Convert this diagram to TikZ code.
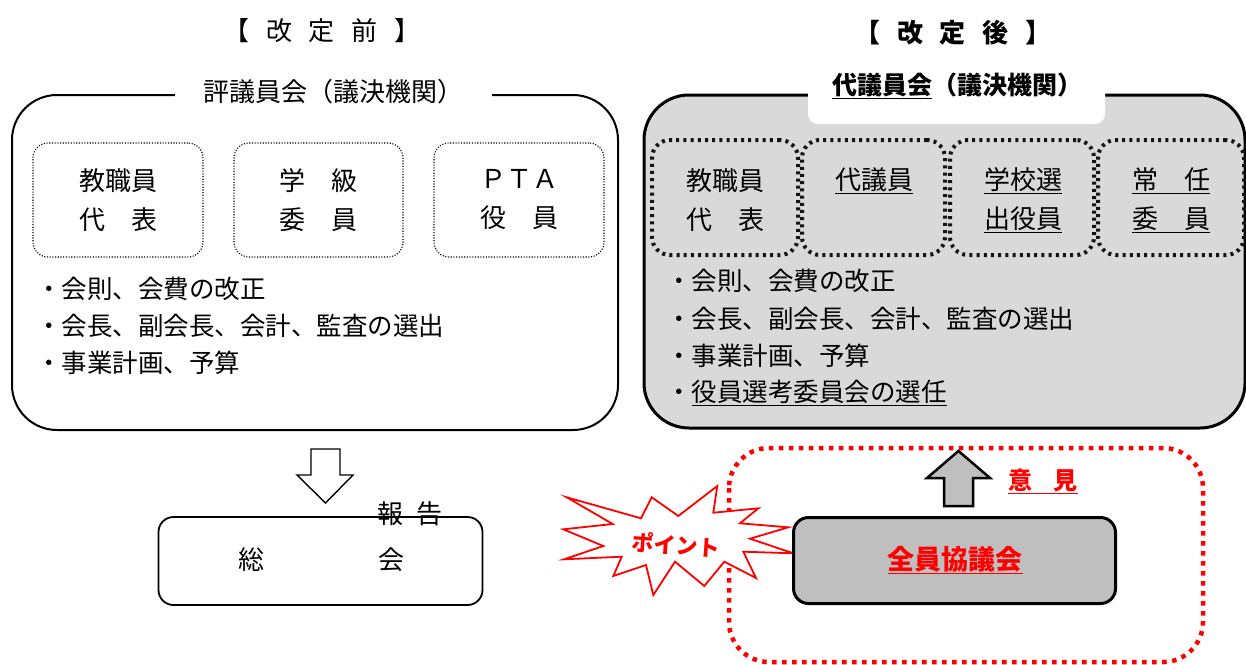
\documentclass[tikz,border=0pt]{standalone}
\usepackage{fontspec}
\setmainfont{Noto Sans CJK JP}
\definecolor{boxgray}{HTML}{D9D9D9}
\definecolor{darkgray}{HTML}{BFBFBF}
\definecolor{ptred}{HTML}{FF0000}
\tikzset{
  txt/.style={inner sep=0pt, font=\fontsize{26}{39}\selectfont, align=center},
  listtxt/.style={inner sep=0pt, anchor=west, font=\fontsize{25.5}{30}\selectfont},
  bigbox/.style={line width=2pt, rounded corners=45pt},
  thindot/.style={draw, line width=1.1pt, dash pattern=on 1.1pt off 1.6pt, rounded corners=15pt},
  thickdot/.style={draw=black!92, line width=4pt, dash pattern=on 3pt off 4.2pt, rounded corners=18pt},
  redtxt/.style={inner sep=0pt, text=ptred, font=\fontsize{26}{30}\selectfont\bfseries},
}
\begin{document}
\begin{tikzpicture}[x=1pt,y=-1pt]
\useasboundingbox (0,0) rectangle (1246,664);
\fill[white] (0,0) rectangle (1246,664);

% headings
\node[txt] (hl) at (322,31) {【\hspace{.65em}改\hspace{.65em}定\hspace{.65em}前\hspace{.65em}】};
\node[txt, font=\fontsize{26}{30}\selectfont\bfseries] (hr) at (953,33) {【\hspace{.65em}改\hspace{.65em}定\hspace{.65em}後\hspace{.65em}】};

% ---------- left: before ----------
\draw[bigbox] (12,95) rectangle (618,430);
\node[txt, fill=white, minimum width=317pt, minimum height=30pt] (lt) at (333,92) {評議員会（議決機関）};

\node[thindot, minimum width=170pt, minimum height=114pt] (lb1) at (118,200) {};
\node[thindot, minimum width=169pt, minimum height=114pt] (lb2) at (318.5,200) {};
\node[thindot, minimum width=170pt, minimum height=114pt] (lb3) at (519,200) {};
\node[txt] (lt1) at (lb1) {教職員\\代　表};
\node[txt] (lt2) at (lb2) {学　級\\委　員};
\node[txt] (lt3) at (lb3) {ＰＴＡ\\役　員};

\node[listtxt] (l1) at (36,289) {・会則、会費の改正};
\node[listtxt] (l2) at (36,326) {・会長、副会長、会計、監査の選出};
\node[listtxt] (l3) at (36,363) {・事業計画、予算};

% down arrow
\draw[line width=1.4pt, fill=white, line join=miter]
  (311,449) -- (340,449) -- (340,475) -- (353,475) -- (325.5,503) -- (297,475) -- (311,475) -- cycle;

\node[rounded corners=15pt, draw, line width=1.8pt, minimum width=324pt, minimum height=88pt] (sokai) at (320.5,561) {};
\node[txt] (sk1) at (251,560) {総};
\node[txt] (sk2) at (391,560) {会};
\node[txt] (hokoku) at (410,514) {報\hspace{.5em}告};

% ---------- right: after ----------
\draw[bigbox, line width=3pt, fill=boxgray] (644,95) rectangle (1245,428);
\fill[white, rounded corners=10pt] (808,62) rectangle (1105,124);
\node[txt, font=\fontsize{25}{30}\selectfont\bfseries] (rt) at (957,86) {\underline{代議員会}（議決機関）};

\node[thickdot, minimum width=146pt, minimum height=115pt] (rb1) at (725,197.5) {};
\node[thickdot, minimum width=143pt, minimum height=115pt] (rb2) at (873.5,197.5) {};
\node[thickdot, minimum width=144pt, minimum height=115pt] (rb3) at (1022,197.5) {};
\node[thickdot, minimum width=146pt, minimum height=115pt] (rb4) at (1171,197.5) {};
\node[txt] (rt1) at (725,200) {教職員\\代　表};
\node[txt, anchor=center] (rt2) at (874,181) {\underline{代議員}};
\node[txt] (rt3) at (1023,200) {\underline{学校選}\\\underline{出役員}};
\node[txt] (rt4) at (1171,200) {\underline{常　任}\\\underline{委　員}};

\node[listtxt] (r1) at (666,281) {・会則、会費の改正};
\node[listtxt] (r2) at (666,319) {・会長、副会長、会計、監査の選出};
\node[listtxt] (r3) at (666,356) {・事業計画、予算};
\node[listtxt] (r4) at (666,393) {・\underline{役員選考委員会の選任}};

% red dotted area
\draw[ptred, line width=4.5pt, dash pattern=on 4.5pt off 5.5pt, rounded corners=40pt] (729,448) rectangle (1203,662);

% up arrow
\draw[line width=2.5pt, fill=darkgray, line join=miter]
  (944,506) -- (944,478) -- (927,478) -- (958.5,451) -- (990,478) -- (973,478) -- (973,506) -- cycle;
\node[redtxt, font=\fontsize{24}{30}\selectfont\bfseries] (iken) at (1043,481) {\underline{意\hspace{.9em}見}};

% starburst
\draw[ptred, line width=1.8pt, fill=white, line join=miter]
  (566.7,497.3) -- (641,518.3) -- (651.7,497.3) -- (678.3,516) -- (717.3,486) -- (713.3,512.7)
  -- (758.3,508.3) -- (740,523.3) -- (788.3,527.3) -- (750,538.7) -- (793.3,553.3) -- (743.3,551.7)
  -- (756,578) -- (724.3,561.7) -- (704.3,586) -- (675,561.7) -- (653.3,595) -- (646,565)
  -- (613.3,576) -- (621.7,556.7) -- (564,559.3) -- (603.3,546) -- (563.3,529.3) -- (612.7,524) -- cycle;
\node[redtxt, font=\fontsize{22}{26}\selectfont\bfseries, rotate=-4] (point) at (676,545) {ポイント};

% all-member council
\node[draw, line width=3pt, fill=darkgray, rounded corners=15pt, minimum width=322pt, minimum height=86pt] (zenin) at (954.5,560.5) {};
\node[redtxt, font=\fontsize{27}{30}\selectfont\bfseries] (zt) at (955,560) {\underline{全員協議会}};
\end{tikzpicture}
\end{document}
